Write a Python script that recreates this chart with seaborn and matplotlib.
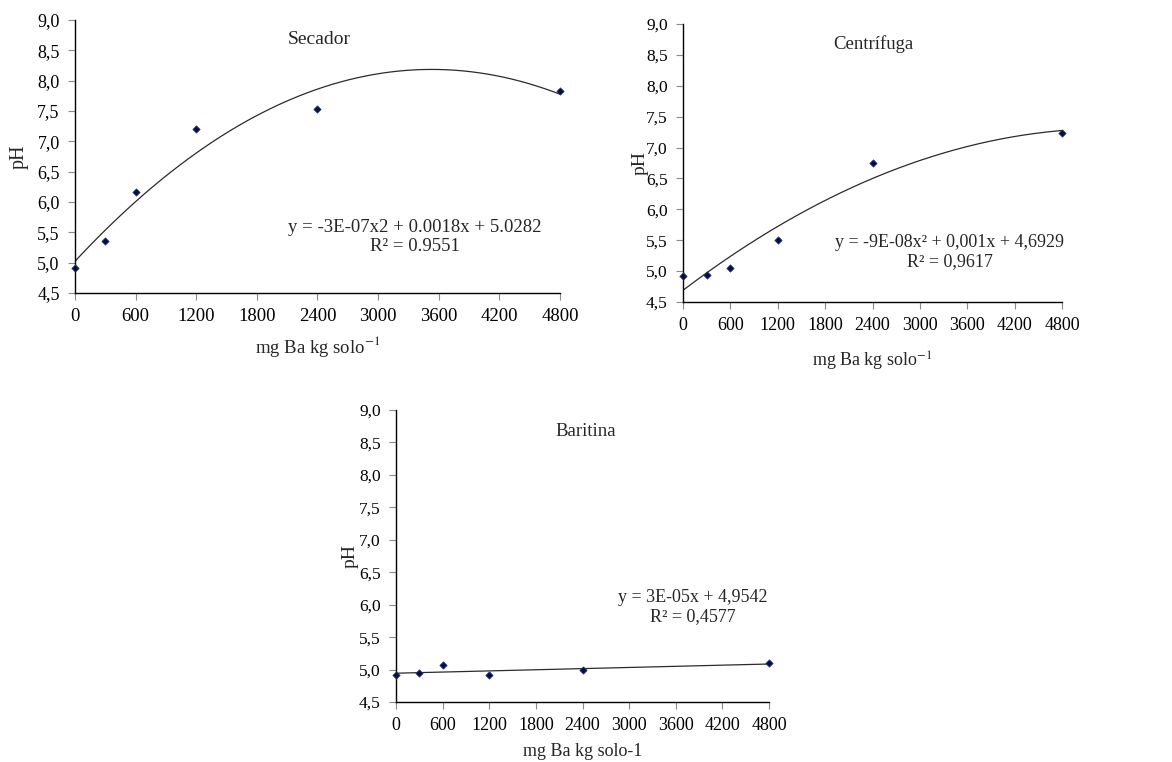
import numpy as np
import pandas as pd
import matplotlib
matplotlib.use("Agg")
import matplotlib.pyplot as plt
from matplotlib.ticker import FuncFormatter, MultipleLocator
import seaborn as sns

# Doses of Ba applied to the soil (mg Ba kg solo-1)
doses = [0, 300, 600, 1200, 2400, 4800]

# Soil pH measured for each Ba source
ph_secador = [4.92, 5.36, 6.16, 7.20, 7.54, 7.83]
ph_centrifuga = [4.92, 4.94, 5.05, 5.51, 6.75, 7.23]
ph_baritina = [4.91, 4.95, 5.07, 4.92, 4.99, 5.10]

titles = ["Secador", "Centrífuga", "Baritina"]
equations = [
    "y = -3E-07x2 + 0.0018x + 5.0282\nR² = 0.9551",
    "y = -9E-08x² + 0,001x + 4,6929\nR² = 0,9617",
    "y = 3E-05x + 4,9542\nR² = 0,4577",
]
xlabels = ["mg Ba kg solo$^{-1}$", "mg Ba kg solo$^{-1}$", "mg Ba kg solo-1"]
fit_degree = [2, 2, 1]
x_ticks = [0, 600, 1200, 1800, 2400, 3000, 3600, 4200, 4800]

sns.set_style("ticks")
plt.rcParams["font.family"] = ["Liberation Serif", "DejaVu Serif"]
plt.rcParams["mathtext.fontset"] = "stix"

fig = plt.figure(figsize=(11.72, 7.62), dpi=100)

# panel rectangles [left, bottom, width, height] in figure fractions
rects = [
    [0.0640, 0.6155, 0.4138, 0.3583],
    [0.5828, 0.6037, 0.3234, 0.3648],
    [0.3379, 0.0787, 0.3183, 0.3832],
]
title_pos = [(0.503, 0.930), (0.501, 0.928), (0.509, 0.925)]
eq_pos = [(0.701, 0.205), (0.704, 0.180), (0.796, 0.325)]
ylabel_x = [-0.095, -0.090, -0.100]
xlabel_pad = [6, 11, 6]
fs = [13.5, 13, 13]

series = [ph_secador, ph_centrifuga, ph_baritina]
comma = FuncFormatter(lambda v, p: f"{v:.1f}".replace(".", ","))

for i, ph in enumerate(series):
    ax = fig.add_axes(rects[i])
    df = pd.DataFrame({"dose": doses, "pH": ph})

    # polynomial trend line fitted to the measured points
    coefs = np.polyfit(df["dose"], df["pH"], fit_degree[i])
    xs = np.linspace(0, 4800, 300)
    trend = pd.DataFrame({"dose": xs, "pH": np.polyval(coefs, xs)})
    sns.lineplot(data=trend, x="dose", y="pH", ax=ax, color="#2b2b2b",
                 linewidth=0.9, zorder=2)
    sns.scatterplot(data=df, x="dose", y="pH", ax=ax, marker="D", s=14,
                    color="#0b0b3c", edgecolor="#1f3c88", linewidth=0.5,
                    zorder=3, clip_on=False)

    ax.set_xlim(0, 4800)
    ax.set_ylim(4.5, 9.0)
    ax.set_xticks(x_ticks)
    ax.yaxis.set_major_locator(MultipleLocator(0.5))
    ax.yaxis.set_major_formatter(comma)
    ax.tick_params(axis="both", direction="out", length=5, width=0.8,
                   color="#8a8a8a", labelsize=fs[i], labelcolor="black", pad=6)
    ax.tick_params(axis="y", labelsize=fs[i] - 0.5)
    for side in ["top", "right"]:
        ax.spines[side].set_visible(False)
    for side in ["left", "bottom"]:
        ax.spines[side].set_color("black")
        ax.spines[side].set_linewidth(1.0)

    ax.set_xlabel(xlabels[i], fontsize=fs[i], labelpad=xlabel_pad[i])
    ax.set_ylabel("pH", fontsize=fs[i] + 1, labelpad=0)
    ax.yaxis.set_label_coords(ylabel_x[i], 0.5)

    ax.text(*title_pos[i], titles[i], transform=ax.transAxes, ha="center",
            va="center", fontsize=fs[i] + 0.5)
    ax.text(*eq_pos[i], equations[i], transform=ax.transAxes, ha="center",
            va="center", multialignment="center", fontsize=fs[i],
            linespacing=1.1)

fig.savefig("out.png", dpi=100, facecolor="white")
